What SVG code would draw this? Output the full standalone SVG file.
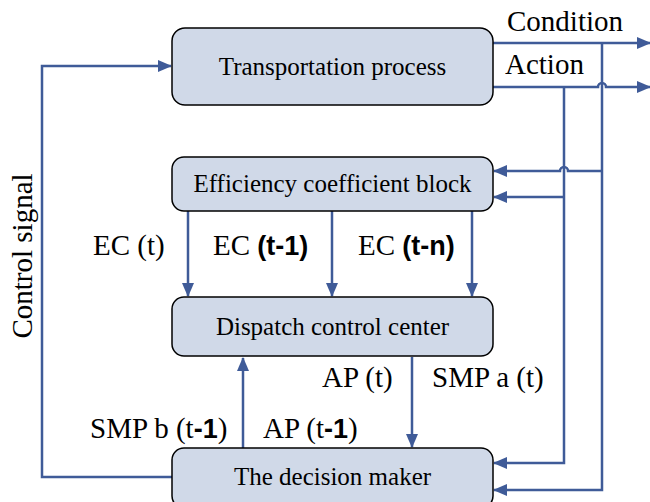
<svg xmlns="http://www.w3.org/2000/svg" width="650" height="502" viewBox="0 0 650 502">
<defs>
<style>
.box{fill:#d0d9e8;stroke:#000;stroke-width:1.5}
.t{font-family:"Liberation Serif","Times New Roman",serif;font-size:25px;fill:#000}
.lbl{font-family:"Liberation Serif","Times New Roman",serif;font-size:29px;fill:#000}
.b{font-family:"Liberation Sans",Arial,sans-serif;font-weight:bold;font-size:27px}
.c{fill:none;stroke:#3f5b98;stroke-width:2.5}
</style>
<marker id="ah" markerWidth="14" markerHeight="12" refX="13" refY="6" orient="auto" markerUnits="userSpaceOnUse">
<path d="M0,0 L14,6 L0,12 Z" fill="#3f5b98"/>
</marker>
</defs>
<rect width="650" height="502" fill="#fff"/>
<g id="connectors">
<path class="c" d="M493,43 H650" marker-end="url(#ah)"/>
<path class="c" d="M493,87 H598 a4,4 0 0 1 8,0 H650" marker-end="url(#ah)"/>
<path class="c" d="M602,43 V490 H494" marker-end="url(#ah)"/>
<path class="c" d="M564,87 V463 H494" marker-end="url(#ah)"/>
<path class="c" d="M602,171 H568 a4,4 0 0 0 -8,0 H494" marker-end="url(#ah)"/>
<path class="c" d="M564,197 H494" marker-end="url(#ah)"/>
<path class="c" d="M188,211 V296" marker-end="url(#ah)"/>
<path class="c" d="M332,211 V296" marker-end="url(#ah)"/>
<path class="c" d="M472,211 V296" marker-end="url(#ah)"/>
<path class="c" d="M412,357 V447" marker-end="url(#ah)"/>
<path class="c" d="M243,448 V358" marker-end="url(#ah)"/>
<path class="c" d="M172,477 H42 V66 H171" marker-end="url(#ah)"/>
</g>
<g id="transportation">
<rect class="box" x="172" y="28" width="321" height="77" rx="13"/>
<text class="t" x="332.5" y="75" text-anchor="middle">Transportation process</text>
</g>
<g id="efficiency">
<rect class="box" x="172" y="157" width="321" height="54" rx="12"/>
<text class="t" x="332.5" y="192" text-anchor="middle">Efficiency coefficient block</text>
</g>
<g id="dispatch">
<rect class="box" x="172" y="297" width="321" height="59" rx="12"/>
<text class="t" x="332.5" y="335" text-anchor="middle">Dispatch control center</text>
</g>
<g id="decision">
<rect class="box" x="172" y="448" width="321" height="60" rx="12"/>
<text class="t" x="332.5" y="485" text-anchor="middle">The decision maker</text>
</g>
<g id="labels">
<text class="lbl" x="507" y="31" font-size="32">Condition</text>
<text class="lbl" x="505" y="74" font-size="32">Action</text>
<text class="lbl" x="32" y="256" font-size="31" text-anchor="middle" transform="rotate(-90 32 256)">Control signal</text>
<text class="lbl" x="93" y="255">EC (t)</text>
<text class="lbl" x="213" y="255">EC <tspan class="b">(t-1)</tspan></text>
<text class="lbl" x="358" y="255">EC <tspan class="b">(t-n)</tspan></text>
<text class="lbl" x="322" y="387">AP (t)</text>
<text class="lbl" x="432" y="387">SMP a (t)</text>
<text class="lbl" x="90" y="438">SMP b (t<tspan class="b">-1</tspan>)</text>
<text class="lbl" x="263" y="438">AP (t<tspan class="b">-1</tspan>)</text>
</g>
</svg>
